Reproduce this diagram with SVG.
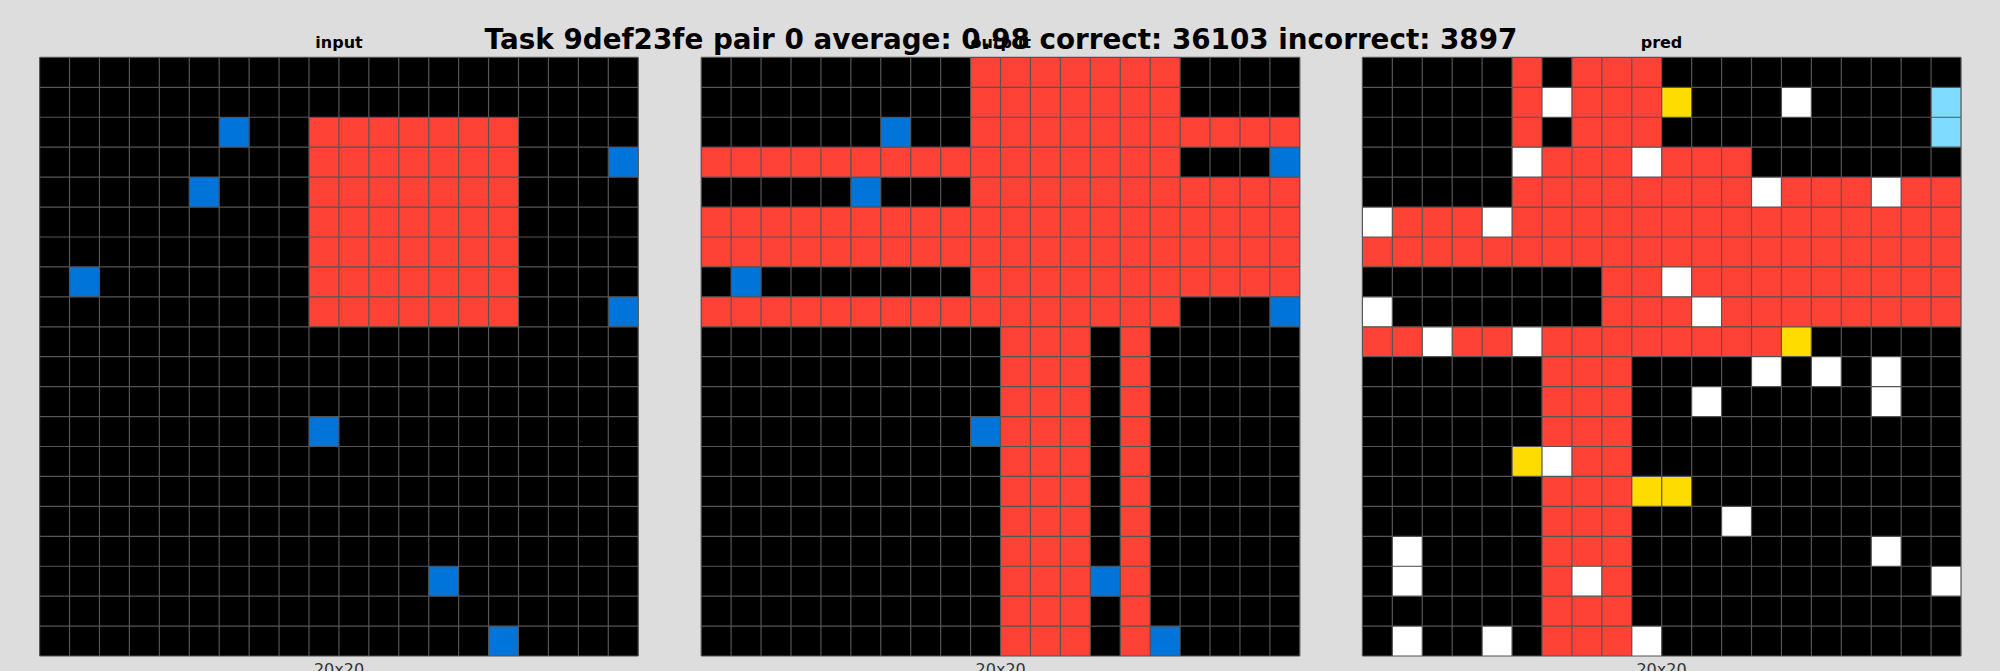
<svg xmlns="http://www.w3.org/2000/svg" xmlns:xlink="http://www.w3.org/1999/xlink" width="2000" height="671" viewBox="0 0 2000 671">
<style>
.bg{fill:#000}
.r{fill:#FF4136}
.b{fill:#0074D9}
.w{fill:#FFFFFF}
.y{fill:#FFDC00}
.c{fill:#7FDBFF}
.gl{fill:none;stroke:#555555;stroke-width:1.2}
.title{font-family:"DejaVu Sans",sans-serif;font-weight:bold;font-size:27.8px;fill:#000;text-anchor:middle}
.sub{font-family:"DejaVu Sans",sans-serif;font-weight:bold;font-size:16px;fill:#000;text-anchor:middle}
.dim{font-family:"DejaVu Sans",sans-serif;font-size:16px;fill:#333;text-anchor:middle}
</style>
<defs>
<path id="lines" class="gl" d="M0 0V600M30 0V600M60 0V600M90 0V600M120 0V600M150 0V600M180 0V600M210 0V600M240 0V600M270 0V600M300 0V600M330 0V600M360 0V600M390 0V600M420 0V600M450 0V600M480 0V600M510 0V600M540 0V600M570 0V600M600 0V600M0 0H600M0 30H600M0 60H600M0 90H600M0 120H600M0 150H600M0 180H600M0 210H600M0 240H600M0 270H600M0 300H600M0 330H600M0 360H600M0 390H600M0 420H600M0 450H600M0 480H600M0 510H600M0 540H600M0 570H600M0 600H600"/>
</defs>
<rect width="2000" height="671" fill="#DDDDDD"/>
<text class="title" x="1001" y="49">Task 9def23fe pair 0 average: 0.98 correct: 36103 incorrect: 3897</text>

<g id="input">
<text class="sub" x="339" y="48">input</text>
<g transform="translate(39.6,57.4) scale(0.9977)">
<rect class="bg" width="600" height="600"/>
<rect class="r" x="270" y="60" width="210" height="210"/>
<rect class="b" x="180" y="60" width="30" height="30"/>
<rect class="b" x="570" y="90" width="30" height="30"/>
<rect class="b" x="150" y="120" width="30" height="30"/>
<rect class="b" x="30" y="210" width="30" height="30"/>
<rect class="b" x="570" y="240" width="30" height="30"/>
<rect class="b" x="270" y="360" width="30" height="30"/>
<rect class="b" x="390" y="510" width="30" height="30"/>
<rect class="b" x="450" y="570" width="30" height="30"/>
<use xlink:href="#lines"/>
</g>
<text class="dim" x="339" y="675">20x20</text>
</g>

<g id="output">
<text class="sub" x="1000.7" y="48">output</text>
<g transform="translate(701.2,57.4) scale(0.9977)">
<rect class="bg" width="600" height="600"/>
<rect class="r" x="270" y="0" width="210" height="270"/>
<rect class="r" x="480" y="60" width="120" height="30"/>
<rect class="r" x="0" y="90" width="270" height="30"/>
<rect class="r" x="480" y="120" width="120" height="30"/>
<rect class="r" x="0" y="150" width="600" height="60"/>
<rect class="r" x="480" y="210" width="120" height="30"/>
<rect class="r" x="0" y="240" width="270" height="30"/>
<rect class="r" x="300" y="270" width="90" height="330"/>
<rect class="r" x="420" y="270" width="30" height="330"/>
<rect class="b" x="180" y="60" width="30" height="30"/>
<rect class="b" x="570" y="90" width="30" height="30"/>
<rect class="b" x="150" y="120" width="30" height="30"/>
<rect class="b" x="30" y="210" width="30" height="30"/>
<rect class="b" x="570" y="240" width="30" height="30"/>
<rect class="b" x="270" y="360" width="30" height="30"/>
<rect class="b" x="390" y="510" width="30" height="30"/>
<rect class="b" x="450" y="570" width="30" height="30"/>
<use xlink:href="#lines"/>
</g>
<text class="dim" x="1000.7" y="675">20x20</text>
</g>

<g id="pred">
<text class="sub" x="1661.5" y="48">pred</text>
<g transform="translate(1362.4,57.4) scale(0.9977)">
<rect class="bg" width="600" height="600"/>
<rect class="r" x="150" y="0" width="30" height="90"/>
<rect class="r" x="210" y="0" width="90" height="90"/>
<rect class="r" x="180" y="90" width="90" height="30"/>
<rect class="r" x="300" y="90" width="90" height="30"/>
<rect class="r" x="150" y="120" width="240" height="30"/>
<rect class="r" x="420" y="120" width="90" height="30"/>
<rect class="r" x="540" y="120" width="60" height="30"/>
<rect class="r" x="30" y="150" width="90" height="30"/>
<rect class="r" x="150" y="150" width="450" height="30"/>
<rect class="r" x="0" y="180" width="600" height="30"/>
<rect class="r" x="240" y="210" width="60" height="30"/>
<rect class="r" x="330" y="210" width="270" height="30"/>
<rect class="r" x="240" y="240" width="90" height="30"/>
<rect class="r" x="360" y="240" width="240" height="30"/>
<rect class="r" x="0" y="270" width="60" height="30"/>
<rect class="r" x="90" y="270" width="60" height="30"/>
<rect class="r" x="180" y="270" width="240" height="30"/>
<rect class="r" x="180" y="300" width="90" height="90"/>
<rect class="r" x="210" y="390" width="60" height="30"/>
<rect class="r" x="180" y="420" width="90" height="90"/>
<rect class="r" x="180" y="510" width="30" height="30"/>
<rect class="r" x="240" y="510" width="30" height="30"/>
<rect class="r" x="180" y="540" width="90" height="60"/>
<rect class="w" x="180" y="30" width="30" height="30"/>
<rect class="w" x="420" y="30" width="30" height="30"/>
<rect class="w" x="150" y="90" width="30" height="30"/>
<rect class="w" x="270" y="90" width="30" height="30"/>
<rect class="w" x="390" y="120" width="30" height="30"/>
<rect class="w" x="510" y="120" width="30" height="30"/>
<rect class="w" x="0" y="150" width="30" height="30"/>
<rect class="w" x="120" y="150" width="30" height="30"/>
<rect class="w" x="300" y="210" width="30" height="30"/>
<rect class="w" x="0" y="240" width="30" height="30"/>
<rect class="w" x="330" y="240" width="30" height="30"/>
<rect class="w" x="60" y="270" width="30" height="30"/>
<rect class="w" x="150" y="270" width="30" height="30"/>
<rect class="w" x="390" y="300" width="30" height="30"/>
<rect class="w" x="450" y="300" width="30" height="30"/>
<rect class="w" x="510" y="300" width="30" height="30"/>
<rect class="w" x="330" y="330" width="30" height="30"/>
<rect class="w" x="510" y="330" width="30" height="30"/>
<rect class="w" x="180" y="390" width="30" height="30"/>
<rect class="w" x="360" y="450" width="30" height="30"/>
<rect class="w" x="30" y="480" width="30" height="30"/>
<rect class="w" x="510" y="480" width="30" height="30"/>
<rect class="w" x="30" y="510" width="30" height="30"/>
<rect class="w" x="210" y="510" width="30" height="30"/>
<rect class="w" x="570" y="510" width="30" height="30"/>
<rect class="w" x="30" y="570" width="30" height="30"/>
<rect class="w" x="120" y="570" width="30" height="30"/>
<rect class="w" x="270" y="570" width="30" height="30"/>
<rect class="y" x="300" y="30" width="30" height="30"/>
<rect class="y" x="420" y="270" width="30" height="30"/>
<rect class="y" x="150" y="390" width="30" height="30"/>
<rect class="y" x="270" y="420" width="60" height="30"/>
<rect class="c" x="570" y="30" width="30" height="60"/>
<use xlink:href="#lines"/>
</g>
<text class="dim" x="1661.5" y="675">20x20</text>
</g>
</svg>
